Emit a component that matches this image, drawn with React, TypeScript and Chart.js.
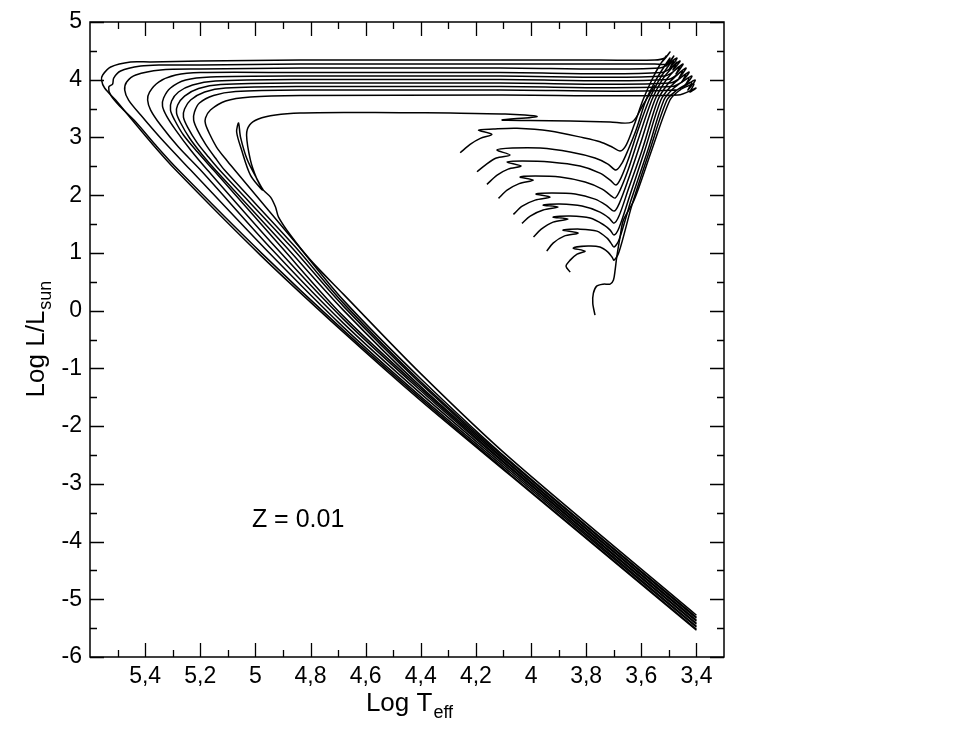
import { useEffect, useRef } from 'react';
import { Chart, registerables } from 'chart.js';

Chart.register(...registerables);

const FONT = '"Liberation Sans", Arial, Helvetica, sans-serif';

// Axis ticks (log Teff reversed, log L/Lsun)
const xMajorTicks = [5.4, 5.2, 5.0, 4.8, 4.6, 4.4, 4.2, 4.0, 3.8, 3.6, 3.4];
const xMinorTicks = [5.5, 5.3, 5.1, 4.9, 4.7, 4.5, 4.3, 4.1, 3.9, 3.7, 3.5];
const yMajorTicks = [5, 4, 3, 2, 1, 0, -1, -2, -3, -4, -5, -6];
const yMinorTicks = [4.5, 3.5, 2.5, 1.5, 0.5, -0.5, -1.5, -2.5, -3.5, -4.5, -5.5];

// Evolutionary tracks: [log Teff, log L/Lsun]
const track1: [number, number][] = [
  [4.257, 2.735], [4.221, 2.88], [4.184, 2.984], [4.142, 3.054], [4.191, 3.128], [4.137, 3.146],
  [4.051, 3.158], [3.931, 3.111], [3.81, 2.995], [3.75, 2.925], [3.706, 2.834], [3.677, 2.764],
  [3.655, 2.868], [3.626, 3.215], [3.594, 3.648], [3.562, 3.995], [3.533, 4.255], [3.51, 4.411],
  [3.525, 4.307], [3.496, 4.48], [3.515, 4.376], [3.551, 4.341], [3.75, 4.341], [4.112, 4.341],
  [4.474, 4.341], [4.837, 4.341], [5.199, 4.324], [5.38, 4.307], [5.453, 4.307], [5.525, 4.22],
  [5.554, 4.081], [5.558, 3.995], [5.547, 3.856], [5.507, 3.648], [5.453, 3.336], [5.38, 2.92],
  [5.289, 2.435], [4.982, 0.962], [4.681, -0.373], [4.402, -1.551], [4.076, -2.851], [3.4, -5.537],
];
const track2: [number, number][] = [
  [4.196, 2.406], [4.166, 2.522], [4.126, 2.643], [4.076, 2.695], [4.124, 2.782], [4.068, 2.816],
  [3.967, 2.816], [3.858, 2.747], [3.768, 2.643], [3.721, 2.539], [3.692, 2.435], [3.67, 2.556],
  [3.648, 2.782], [3.619, 3.128], [3.583, 3.648], [3.547, 3.995], [3.518, 4.22], [3.496, 4.376],
  [3.51, 4.237], [3.482, 4.411], [3.504, 4.272], [3.551, 4.272], [4.112, 4.272], [4.837, 4.272],
  [5.199, 4.255], [5.344, 4.255], [5.416, 4.237], [5.489, 4.151], [5.514, 4.029], [5.518, 3.925],
  [5.532, 3.873], [5.525, 3.735], [5.489, 3.527], [5.434, 3.267], [5.362, 2.868], [5.279, 2.435],
  [4.974, 0.979], [4.681, -0.338], [4.402, -1.516], [4.076, -2.834], [3.4, -5.52],
];
const track3: [number, number][] = [
  [4.16, 2.187], [4.123, 2.348], [4.083, 2.452], [4.036, 2.504], [4.087, 2.574], [4.032, 2.591],
  [3.931, 2.574], [3.822, 2.504], [3.75, 2.383], [3.713, 2.262], [3.692, 2.175], [3.674, 2.296],
  [3.648, 2.608], [3.612, 3.128], [3.572, 3.648], [3.54, 3.96], [3.507, 4.203], [3.482, 4.341],
  [3.496, 4.203], [3.471, 4.376], [3.533, 4.203], [4.112, 4.203], [4.837, 4.203], [5.199, 4.185],
  [5.344, 4.168], [5.434, 4.081], [5.467, 3.96], [5.474, 3.821], [5.46, 3.648], [5.416, 3.388],
  [5.344, 2.99], [5.235, 2.435], [4.953, 1.014], [4.681, -0.286], [4.402, -1.482], [4.076, -2.799],
  [3.4, -5.485],
];
const track4: [number, number][] = [
  [4.118, 1.945], [4.087, 2.088], [4.043, 2.201], [3.992, 2.262], [4.04, 2.314], [3.985, 2.331],
  [3.895, 2.314], [3.804, 2.227], [3.742, 2.106], [3.713, 2.002], [3.695, 1.95], [3.677, 2.088],
  [3.648, 2.435], [3.612, 2.955], [3.562, 3.648], [3.525, 3.995], [3.496, 4.168], [3.471, 4.307],
  [3.485, 4.168], [3.46, 4.324], [3.525, 4.125], [4.112, 4.125], [4.837, 4.125], [5.199, 4.125],
  [5.289, 4.081], [5.351, 3.96], [5.384, 3.787], [5.391, 3.648], [5.38, 3.475], [5.344, 3.215],
  [5.279, 2.834], [5.199, 2.435], [4.938, 1.049], [4.681, -0.217], [4.402, -1.43], [4.076, -2.764],
  [3.4, -5.468],
];
const track5: [number, number][] = [
  [4.064, 1.667], [4.032, 1.811], [3.985, 1.915], [3.931, 1.967], [3.982, 2.019], [3.924, 2.036],
  [3.84, 2.019], [3.768, 1.932], [3.728, 1.828], [3.699, 1.724], [3.681, 1.846], [3.648, 2.262],
  [3.605, 2.868], [3.551, 3.648], [3.515, 3.96], [3.485, 4.133], [3.46, 4.237], [3.474, 4.099],
  [3.449, 4.272], [3.515, 4.064], [4.112, 4.064], [4.837, 4.064], [5.163, 4.047], [5.253, 3.995],
  [5.308, 3.856], [5.333, 3.683], [5.337, 3.544], [5.322, 3.371], [5.289, 3.128], [5.235, 2.782],
  [5.174, 2.435], [4.924, 1.083], [4.681, -0.147], [4.402, -1.378], [4.076, -2.73], [3.4, -5.433],
];
const track6: [number, number][] = [
  [4.033, 1.511], [4.003, 1.638], [3.956, 1.742], [3.902, 1.794], [3.956, 1.828], [3.895, 1.846],
  [3.815, 1.811], [3.75, 1.707], [3.717, 1.603], [3.699, 1.516], [3.681, 1.638], [3.648, 2.088],
  [3.597, 2.782], [3.54, 3.648], [3.504, 3.925], [3.474, 4.064], [3.449, 4.168], [3.463, 4.029],
  [3.438, 4.203], [3.504, 4.003], [4.112, 4.003], [4.837, 4.003], [5.145, 3.977], [5.228, 3.908],
  [5.279, 3.787], [5.304, 3.631], [5.308, 3.475], [5.293, 3.302], [5.261, 3.042], [5.21, 2.747],
  [5.152, 2.435], [4.909, 1.118], [4.681, -0.095], [4.402, -1.343], [4.076, -2.712], [3.4, -5.416],
];
const track7: [number, number][] = [
  [3.991, 1.274], [3.963, 1.412], [3.92, 1.534], [3.866, 1.586], [3.92, 1.62], [3.858, 1.638],
  [3.786, 1.603], [3.735, 1.482], [3.713, 1.395], [3.699, 1.309], [3.681, 1.43], [3.641, 2.002],
  [3.587, 2.782], [3.529, 3.648], [3.492, 3.891], [3.463, 4.012], [3.438, 4.099], [3.453, 3.96],
  [3.427, 4.133], [3.496, 3.943], [4.112, 3.943], [4.837, 3.943], [5.126, 3.917], [5.206, 3.847],
  [5.257, 3.717], [5.282, 3.562], [5.286, 3.423], [5.271, 3.25], [5.239, 2.99], [5.192, 2.695],
  [5.145, 2.435], [4.895, 1.135], [4.681, 0.009], [4.402, -1.308], [4.076, -2.678], [3.4, -5.381],
];
const track8: [number, number][] = [
  [3.943, 1.031], [3.92, 1.17], [3.88, 1.291], [3.829, 1.343], [3.884, 1.395], [3.822, 1.412],
  [3.761, 1.378], [3.724, 1.256], [3.71, 1.17], [3.699, 1.101], [3.681, 1.222], [3.637, 1.915],
  [3.576, 2.782], [3.518, 3.648], [3.482, 3.856], [3.453, 3.96], [3.427, 4.029], [3.442, 3.891],
  [3.417, 4.064], [3.489, 3.882], [4.112, 3.882], [4.837, 3.882], [5.108, 3.856], [5.184, 3.787],
  [5.235, 3.648], [5.257, 3.492], [5.261, 3.354], [5.246, 3.18], [5.213, 2.92], [5.17, 2.66],
  [5.13, 2.435], [4.873, 1.118], [4.681, 0.078], [4.402, -1.256], [4.076, -2.66], [3.4, -5.364],
];
const track9: [number, number][] = [
  [3.858, 0.667], [3.873, 0.771], [3.858, 0.875], [3.833, 0.979], [3.804, 1.031], [3.847, 1.083],
  [3.793, 1.118], [3.75, 1.101], [3.721, 1.014], [3.706, 0.927], [3.699, 0.875], [3.681, 1.014],
  [3.634, 1.828], [3.569, 2.782], [3.507, 3.648], [3.471, 3.821], [3.442, 3.908], [3.417, 3.96],
  [3.431, 3.821], [3.405, 3.995], [3.478, 3.821], [4.112, 3.821], [4.837, 3.821], [5.072, 3.795],
  [5.152, 3.726], [5.203, 3.596], [5.221, 3.44], [5.224, 3.302], [5.21, 3.128], [5.181, 2.886],
  [5.145, 2.643], [5.112, 2.435], [4.858, 1.118], [4.681, 0.13], [4.402, -1.222], [4.076, -2.626],
  [3.4, -5.329],
];
const track10: [number, number][] = [
  [3.768, -0.078], [3.776, 0.125], [3.774, 0.298], [3.762, 0.425], [3.738, 0.459], [3.713, 0.459],
  [3.701, 0.529], [3.695, 0.702], [3.689, 0.932], [3.677, 1.279], [3.665, 1.568], [3.626, 1.915],
  [3.562, 2.782], [3.496, 3.648], [3.46, 3.821], [3.431, 3.891], [3.409, 3.925], [3.424, 3.787],
  [3.402, 3.856], [3.467, 3.735], [4.112, 3.735], [4.837, 3.726], [5.018, 3.7], [5.108, 3.631],
  [5.163, 3.475], [5.181, 3.336], [5.181, 3.232], [5.166, 3.059], [5.141, 2.834], [5.105, 2.608],
  [5.072, 2.418], [4.844, 1.118], [4.681, 0.182], [4.402, -1.17], [4.076, -2.608], [3.4, -5.312],
];
const track11: [number, number][] = [
  [3.551, 3.908], [3.594, 3.562], [3.634, 3.267], [3.713, 3.267], [3.858, 3.284], [4.003, 3.293],
  [4.105, 3.302], [3.978, 3.362], [4.094, 3.406], [4.293, 3.423], [4.474, 3.428], [4.656, 3.432],
  [4.837, 3.423], [4.927, 3.388], [4.989, 3.319], [5.021, 3.215], [5.032, 3.042], [5.018, 2.608],
  [4.996, 2.296], [4.974, 2.088], [5.018, 2.348], [5.05, 2.782], [5.068, 3.094], [5.061, 3.25],
  [5.054, 3.007], [5.029, 2.608], [4.992, 2.262], [4.971, 2.088], [4.945, 1.967], [4.927, 1.794],
  [4.916, 1.62], [4.873, 1.309], [4.8, 0.875], [4.681, 0.286], [4.402, -1.083], [4.076, -2.556],
  [3.4, -5.277],
];

const tracks = [track1, track2, track3, track4, track5, track6, track7, track8, track9, track10, track11];

const xTitle = 'Log T';
const xTitleSub = 'eff';
const yTitle = 'Log L/L';
const yTitleSub = 'sun';
const annotation = 'Z = 0.01';

const fmtComma = (v: number) => {
  const r = Math.round(v * 10) / 10;
  return String(r).replace('.', ',');
};

const framePlugin = {
  id: 'framePlugin',
  afterDraw(chart: any) {
    const { ctx, chartArea: a, scales } = chart;
    const xs = scales.x;
    const ys = scales.y;
    ctx.save();
    ctx.strokeStyle = '#000';
    ctx.lineWidth = 1.5;
    ctx.strokeRect(a.left, a.top, a.right - a.left, a.bottom - a.top);
    ctx.lineWidth = 1.3;
    ctx.beginPath();
    const xt = (v: number, len: number) => {
      const p = Math.round(xs.getPixelForValue(v)) + 0.5;
      ctx.moveTo(p, a.bottom);
      ctx.lineTo(p, a.bottom - len);
      ctx.moveTo(p, a.top);
      ctx.lineTo(p, a.top + len);
    };
    const yt = (v: number, len: number) => {
      const p = Math.round(ys.getPixelForValue(v)) + 0.5;
      ctx.moveTo(a.left, p);
      ctx.lineTo(a.left + len, p);
      ctx.moveTo(a.right, p);
      ctx.lineTo(a.right - len, p);
    };
    xMajorTicks.forEach((v) => xt(v, 14));
    xMinorTicks.forEach((v) => xt(v, 7));
    yMajorTicks.forEach((v) => yt(v, 14));
    yMinorTicks.forEach((v) => yt(v, 7));
    ctx.stroke();

    ctx.fillStyle = '#000';
    ctx.textAlign = 'left';
    ctx.textBaseline = 'alphabetic';
    // x title
    ctx.font = `26px ${FONT}`;
    const w1 = ctx.measureText(xTitle).width;
    ctx.font = `18px ${FONT}`;
    const w2 = ctx.measureText(xTitleSub).width;
    const cx = (a.left + a.right) / 2 + 2;
    const sx = cx - (w1 + w2) / 2;
    ctx.font = `26px ${FONT}`;
    ctx.fillText(xTitle, sx, 711);
    ctx.font = `18px ${FONT}`;
    ctx.fillText(xTitleSub, sx + w1 + 1, 718);

    // y title
    ctx.save();
    ctx.translate(44, (a.top + a.bottom) / 2);
    ctx.rotate(-Math.PI / 2);
    ctx.font = `26px ${FONT}`;
    const v1 = ctx.measureText(yTitle).width;
    ctx.font = `18px ${FONT}`;
    const v2 = ctx.measureText(yTitleSub).width;
    const sy = -(v1 + v2) / 2;
    ctx.font = `26px ${FONT}`;
    ctx.fillText(yTitle, sy, 0);
    ctx.font = `18px ${FONT}`;
    ctx.fillText(yTitleSub, sy + v1 + 1, 7);
    ctx.restore();

    // annotation
    ctx.font = `25px ${FONT}`;
    ctx.textAlign = 'center';
    ctx.textBaseline = 'middle';
    ctx.fillText(annotation, xs.getPixelForValue(4.845), ys.getPixelForValue(-3.63));
    ctx.restore();
  },
};

export default function App() {
  const ref = useRef<HTMLCanvasElement | null>(null);
  useEffect(() => {
    if (!ref.current) return;
    const chart = new Chart(ref.current, {
      type: 'scatter',
      data: {
        datasets: tracks.map((t, i) => ({
          label: `track ${i + 1}`,
          data: t.map(([x, y]) => ({ x, y })),
          showLine: true,
          borderColor: '#000',
          backgroundColor: '#000',
          borderWidth: 1.5,
          pointRadius: 0,
          pointHoverRadius: 0,
          tension: 0.3,
          fill: false,
        })),
      },
      options: {
        animation: false,
        responsive: false,
        events: [],
        layout: { padding: { top: 22, right: 243, left: 0, bottom: 0 } },
        plugins: { legend: { display: false }, tooltip: { enabled: false } },
        scales: {
          x: {
            type: 'linear',
            reverse: true,
            min: 3.3,
            max: 5.6,
            grid: { display: false, drawTicks: false },
            border: { display: false },
            afterBuildTicks: (s: any) => {
              s.ticks = xMajorTicks.map((v) => ({ value: v }));
            },
            afterFit: (s: any) => {
              s.height = 90;
            },
            ticks: {
              autoSkip: false,
              maxRotation: 0,
              color: '#000',
              padding: 6,
              font: { family: FONT, size: 23 },
              callback: (v: any) => fmtComma(Number(v)),
            },
          },
          y: {
            type: 'linear',
            min: -6,
            max: 5,
            grid: { display: false, drawTicks: false },
            border: { display: false },
            afterBuildTicks: (s: any) => {
              s.ticks = yMajorTicks.map((v) => ({ value: v }));
            },
            afterFit: (s: any) => {
              s.width = 90;
            },
            ticks: {
              autoSkip: false,
              color: '#000',
              padding: 8,
              font: { family: FONT, size: 23 },
              callback: (v: any) => String(Math.round(Number(v))),
            },
          },
        },
      },
      plugins: [framePlugin],
    });
    return () => chart.destroy();
  }, []);
  return (
    <div style={{ position: 'absolute', left: 0, top: 0, width: 967, height: 747, background: '#fff' }}>
      <canvas ref={ref} width={967} height={747} style={{ display: 'block', width: 967, height: 747 }} />
    </div>
  );
}
